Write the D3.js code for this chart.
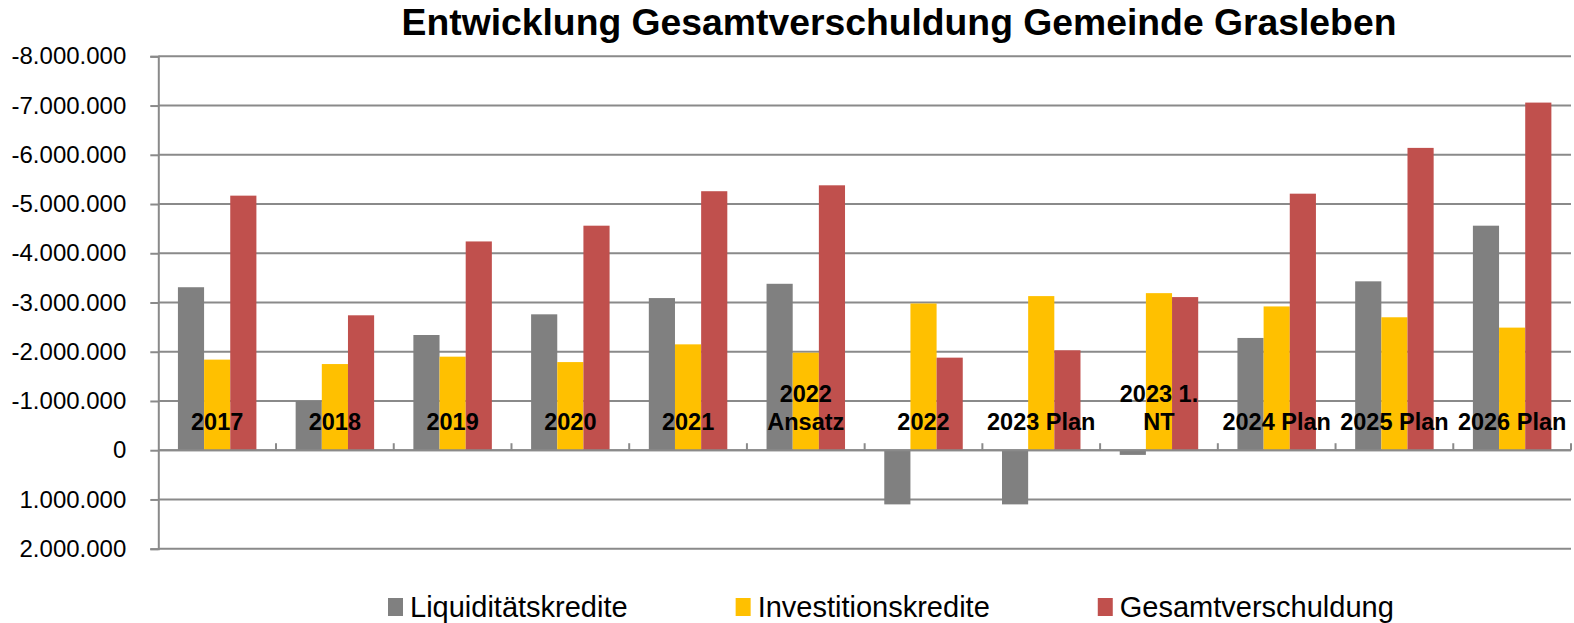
<!DOCTYPE html>
<html>
<head>
<meta charset="utf-8">
<script src="https://cdn.jsdelivr.net/npm/d3@7/dist/d3.min.js"></script>
<style>
  body { margin: 0; background: #fff; }
  svg text { font-family: "Liberation Sans", Arial, sans-serif; }
</style>
</head>
<body>
<div id="chart"></div>
<script>
// data (negative = debt, shown upwards)
var categories = ["2017", "2018", "2019", "2020", "2021", "2022 Ansatz", "2022",
                  "2023 Plan", "2023 1. NT", "2024 Plan", "2025 Plan", "2026 Plan"];
var seriesNames = ["Liquiditätskredite", "Investitionskredite", "Gesamtverschuldung"];
var liquiditaet = [-3310000, -1000000, -2340000, -2760000, -3090000, -3380000,
                   1100000, 1100000, 95000, -2280000, -3430000, -4560000];
var investition = [-1840000, -1750000, -1900000, -1790000, -2150000, -1980000,
                   -2980000, -3130000, -3190000, -2920000, -2700000, -2490000];
var gesamt = [-5170000, -2740000, -4240000, -4560000, -5260000, -5380000,
              -1880000, -2030000, -3110000, -5210000, -6140000, -7060000];
var yTicks = [-8000000, -7000000, -6000000, -5000000, -4000000, -3000000,
              -2000000, -1000000, 0, 1000000, 2000000];
var colors = ["#808080", "#FFC000", "#C0504D"];
var title = "Entwicklung Gesamtverschuldung Gemeinde Grasleben";

// (window.top is taken, hence the longer names)
var W = 1574, H = 623;
var plotLeft = 158.3, plotRight = 1571, plotTop = 56.3, plotBottom = 548.7;
var gridColor = "#8a8a8a";

// german number format, plain hyphen as minus like Excel
var de = d3.formatLocale({decimal: ",", thousands: ".", grouping: [3], currency: ["", " €"], minus: "-"});
var fmt = de.format(",d");

var svg = d3.select("#chart").append("svg")
    .attr("width", W)
    .attr("height", H);

var y = d3.scaleLinear().domain([-8000000, 2000000]).range([plotTop, plotBottom]);
var x0 = d3.scaleBand().domain(categories).range([plotLeft, plotRight]);
var x1 = d3.scaleBand().domain(seriesNames).range([0, x0.bandwidth()]).paddingOuter(0.75);

// gridlines
svg.append("g").selectAll("line")
    .data(yTicks)
    .join("line")
    .attr("x1", plotLeft).attr("x2", plotRight)
    .attr("y1", function(d) { return y(d); })
    .attr("y2", function(d) { return y(d); })
    .style("stroke", gridColor)
    .style("stroke-width", 2);

// y axis
var yAxis = svg.append("g")
    .attr("transform", "translate(" + plotLeft + ",0)")
    .call(d3.axisLeft(y).tickValues(yTicks).tickFormat(fmt).tickSize(8).tickPadding(24));
yAxis.select(".domain").style("stroke", gridColor).style("stroke-width", 2);
yAxis.selectAll(".tick line").style("stroke", gridColor).style("stroke-width", 2);
yAxis.selectAll(".tick text")
    .style("font-size", "24px")
    .style("font-family", "'Liberation Sans', Arial, sans-serif")
    .style("fill", "#000");

// bars
var series = [liquiditaet, investition, gesamt];
series.forEach(function(vals, si) {
    svg.append("g").selectAll("rect")
        .data(vals)
        .join("rect")
        .attr("x", function(d, i) { return x0(categories[i]) + x1(seriesNames[si]); })
        .attr("width", x1.bandwidth())
        .attr("y", function(d) { return Math.min(y(d), y(0)); })
        .attr("height", function(d) { return Math.abs(y(d) - y(0)); })
        .style("fill", colors[si]);
});

// zero line with category ticks pointing up
svg.append("line")
    .attr("x1", plotLeft).attr("x2", plotRight)
    .attr("y1", y(0)).attr("y2", y(0))
    .style("stroke", gridColor)
    .style("stroke-width", 2);
svg.append("g").selectAll("line")
    .data(categories)
    .join("line")
    .attr("x1", function(d) { return x0(d) + x0.bandwidth(); })
    .attr("x2", function(d) { return x0(d) + x0.bandwidth(); })
    .attr("y1", y(0))
    .attr("y2", y(0) - 7)
    .style("stroke", gridColor)
    .style("stroke-width", 2);

// category labels, wrapped like Excel when too wide
var labelBase = 430;
categories.forEach(function(c) {
    var cx = x0(c) + x0.bandwidth() / 2;
    var t = svg.append("text")
        .attr("text-anchor", "middle")
        .attr("x", cx)
        .attr("y", labelBase)
        .style("font-size", "23.5px")
        .style("font-weight", "bold")
        .text(c);
    if (t.node().getComputedTextLength() > 112) {
        var words = c.split(" ");
        var second = words.pop();
        t.text(null);
        t.append("tspan").attr("x", cx).attr("y", labelBase - 28).text(words.join(" "));
        t.append("tspan").attr("x", cx).attr("y", labelBase).text(second);
    }
});

// title
svg.append("text")
    .attr("x", 899)
    .attr("y", 35)
    .attr("text-anchor", "middle")
    .style("font-size", "37.3px")
    .style("font-weight", "bold")
    .text(title);

// legend
var lx = 388;
seriesNames.forEach(function(name, i) {
    var g = svg.append("g").attr("transform", "translate(" + lx + ",0)");
    g.append("rect")
        .attr("x", 0).attr("y", 598)
        .attr("width", 15).attr("height", 18)
        .style("fill", colors[i]);
    var t = g.append("text")
        .attr("x", 22).attr("y", 617)
        .style("font-size", "29px")
        .text(name);
    lx += 22 + t.node().getComputedTextLength() + 108;
});
</script>
</body>
</html>
